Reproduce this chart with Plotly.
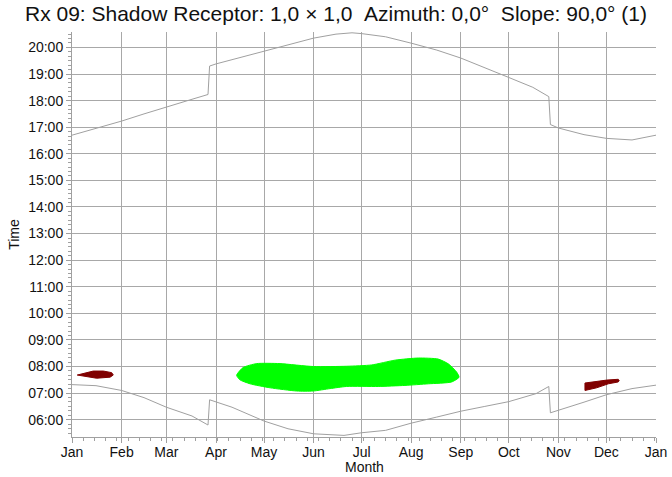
import plotly.graph_objects as go

# ---- data ----
month_days = [0, 31, 59, 90, 120, 151, 181, 212, 243, 273, 304, 334, 365]
month_labels = ["Jan", "Feb", "Mar", "Apr", "May", "Jun", "Jul", "Aug", "Sep", "Oct", "Nov", "Dec", "Jan"]
hour_vals = list(range(6, 21))
hour_labels = [f"{h:02d}:00" for h in hour_vals]

sunrise_day = [0, 15, 31, 45, 59, 75, 85, 86, 100, 120, 135, 151, 170, 181, 196, 212, 228, 243, 258, 273, 290, 298, 299, 304, 320, 334, 350, 365]
sunrise_hr = [7.32, 7.28, 7.10, 6.83, 6.47, 6.14, 5.80, 6.75, 6.47, 5.95, 5.66, 5.47, 5.41, 5.51, 5.60, 5.87, 6.10, 6.32, 6.50, 6.68, 6.98, 7.25, 6.26, 6.35, 6.66, 6.94, 7.17, 7.30]

sunset_day = [0, 15, 31, 45, 59, 75, 85, 86, 90, 105, 120, 135, 151, 165, 175, 181, 196, 212, 228, 243, 258, 273, 288, 298, 299, 304, 320, 334, 350, 365]
sunset_hr = [16.70, 16.95, 17.23, 17.50, 17.77, 18.05, 18.23, 19.30, 19.38, 19.62, 19.85, 20.10, 20.35, 20.50, 20.55, 20.52, 20.40, 20.16, 19.90, 19.60, 19.25, 18.87, 18.50, 18.15, 17.10, 16.97, 16.72, 16.58, 16.52, 16.70]

green_day = [102.9, 106.9, 115.4, 130, 150.8, 171.7, 187.3, 201.9, 216.4, 228.9, 235.2, 240.4, 241.9,
             237.3, 222.7, 208.1, 191.4, 171.6, 161.3, 150.8, 140.4, 123.8, 111.3, 105, 102.9]
green_hr = [7.67, 7.96, 8.11, 8.11, 8.00, 8.01, 8.06, 8.24, 8.32, 8.28, 8.10, 7.79, 7.60,
            7.42, 7.35, 7.29, 7.25, 7.25, 7.17, 7.08, 7.08, 7.20, 7.35, 7.50, 7.67]

jan_day = [3.3, 9.2, 13.3, 19.6, 24.8, 25.8, 23.8, 15.4, 9.2, 3.8, 3.3]
jan_hr = [7.68, 7.78, 7.83, 7.83, 7.77, 7.68, 7.60, 7.56, 7.62, 7.65, 7.68]

dec_day = [320.6, 325.6, 334.2, 341.4, 342.0, 341.4, 335.2, 327.9, 320.6, 320.6]
dec_hr = [7.38, 7.43, 7.49, 7.52, 7.47, 7.42, 7.35, 7.20, 7.10, 7.38]

title_text = "Rx 09: Shadow Receptor: 1,0 × 1,0\u00a0\u00a0Azimuth: 0,0°\u00a0\u00a0Slope: 90,0° (1)"

# ---- figure ----
fig = go.Figure()
fig.add_trace(go.Scatter(x=green_day, y=green_hr, mode="lines", fill="toself", fillcolor="#00ff00",
                         line=dict(color="#00ff00", width=1, shape="spline", smoothing=0.6),
                         hoverinfo="skip", showlegend=False))
for d, h in [(jan_day, jan_hr), (dec_day, dec_hr)]:
    fig.add_trace(go.Scatter(x=d, y=h, mode="lines", fill="toself", fillcolor="#800000",
                             line=dict(color="#800000", width=1),
                             hoverinfo="skip", showlegend=False))
fig.add_trace(go.Scatter(x=sunrise_day, y=sunrise_hr, mode="lines",
                         line=dict(color="#a0a0a0", width=1), showlegend=False))
fig.add_trace(go.Scatter(x=sunset_day, y=sunset_hr, mode="lines",
                         line=dict(color="#a0a0a0", width=1), showlegend=False))

axis_font = dict(family="Arial, Liberation Sans", size=14, color="#111")
fig.update_layout(
    width=672, height=477,
    margin=dict(l=72, r=16, t=32, b=40, pad=0),
    paper_bgcolor="white", plot_bgcolor="white",
    font=dict(family="Arial, Liberation Sans", color="#111"),
    title=dict(text=title_text, x=0.5, xanchor="center", y=0.971, yanchor="middle",
               font=dict(family="Arial, Liberation Sans", size=21, color="#111")),
    xaxis=dict(range=[0, 365], tickmode="array", tickvals=month_days, ticktext=month_labels,
               automargin=False, ticklabelstandoff=-3,
               showgrid=True, gridcolor="#a8a8a8", gridwidth=1,
               showline=True, linecolor="#a0a0a0", linewidth=1,
               ticks="outside", ticklen=5, tickcolor="#a0a0a0",
               tickfont=axis_font, zeroline=False,
               minor=dict(tickmode="linear", tick0=0, dtick=7, ticks="outside", ticklen=3,
                          tickcolor="#a0a0a0", showgrid=False)),
    yaxis=dict(range=[5.35, 20.58], tickmode="array", tickvals=hour_vals, ticktext=hour_labels,
               automargin=False,
               showgrid=True, gridcolor="#a8a8a8", gridwidth=1,
               showline=True, linecolor="#a0a0a0", linewidth=1,
               ticks="outside", ticklen=5, tickcolor="#a0a0a0",
               tickfont=axis_font, zeroline=False,
               minor=dict(tickmode="linear", tick0=0, dtick=1/6, ticks="outside", ticklen=3,
                          tickcolor="#a0a0a0", showgrid=False),
               title=dict(text="Time", font=dict(family="Arial, Liberation Sans", size=14, color="#111"), standoff=5)),
    annotations=[dict(text="Month", xref="paper", yref="paper", x=0.5, y=-0.074,
                      xanchor="center", yanchor="middle", showarrow=False,
                      font=dict(family="Arial, Liberation Sans", size=14, color="#111"))],
)
fig.write_html("out.html", config={"displayModeBar": False},
               post_script="document.body.style.margin='0';document.body.style.overflow='hidden';")
